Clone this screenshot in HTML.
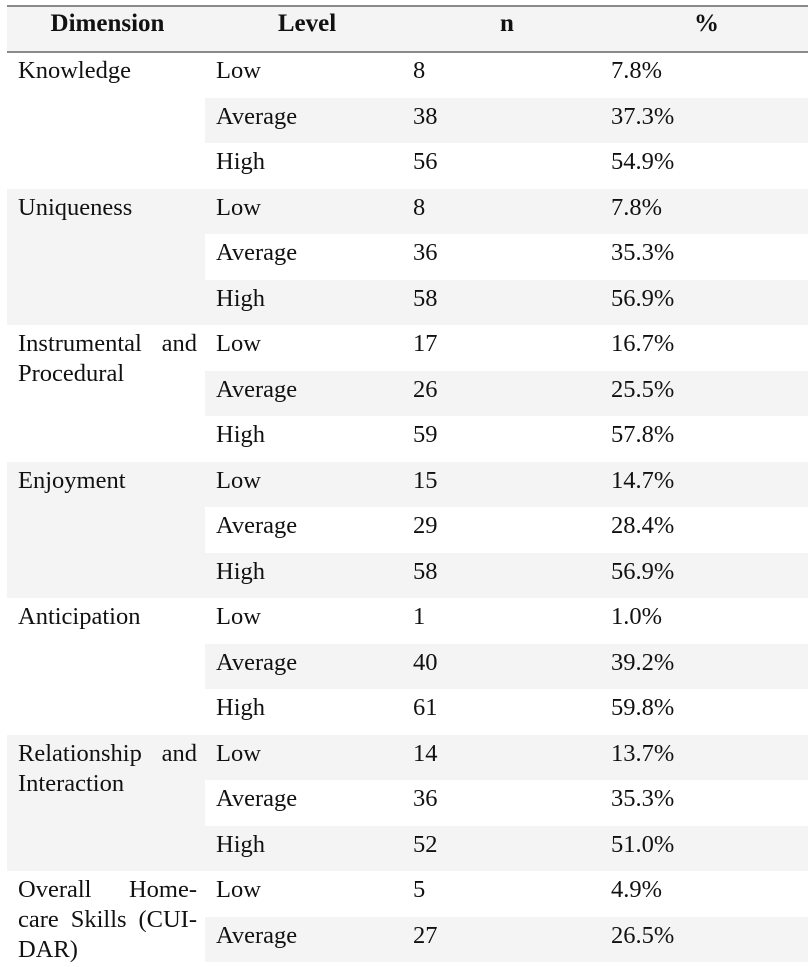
<!DOCTYPE html>
<html><head><meta charset="utf-8">
<style>
html,body{margin:0;background:#fff;width:808px;height:967px;overflow:hidden;}
body{position:relative;font-family:"Liberation Serif",serif;color:#111;}
.hline{position:absolute;left:7px;width:801px;height:2px;background:#8a8a8a;}
.hdr{position:absolute;top:6px;left:7px;width:801px;height:46px;background:#f4f4f4;}
.ht{position:absolute;top:10px;font-weight:bold;font-size:25px;text-align:center;}
.cell{position:absolute;font-size:24.5px;white-space:nowrap;}
.dim{position:absolute;font-size:24.5px;line-height:30px;width:179px;left:18px;}
.dim span{display:block;text-align:justify;text-align-last:justify;white-space:nowrap;}
.dim span.last{text-align-last:left;}
.bg{position:absolute;background:#f4f4f4;}
</style></head>
<body>
<div class="hdr"></div>
<div class="hline" style="top:5px"></div>
<div class="hline" style="top:51px"></div>
<div class="ht" style="left:7px;width:201px">Dimension</div>
<div class="ht" style="left:205px;width:204px">Level</div>
<div class="ht" style="left:405px;width:204px">n</div>
<div class="ht" style="left:605px;width:203px">%</div>
<div id="body"></div>
<script>
const dimensionLines = [["Knowledge"],["Uniqueness"],["Instrumental and","Procedural"],["Enjoyment"],["Anticipation"],["Relationship and","Interaction"],["Overall Home-","care Skills (CUI-","DAR)"]];
const levels = ["Low","Average","High"];
const counts = [[8,38,56],[8,36,58],[17,26,59],[15,29,58],[1,40,61],[14,36,52],[5,27,50]];
const percents = [["7.8%","37.3%","54.9%"],["7.8%","35.3%","56.9%"],["16.7%","25.5%","57.8%"],["14.7%","28.4%","56.9%"],["1.0%","39.2%","59.8%"],["13.7%","35.3%","51.0%"],["4.9%","26.5%","49.0%"]];
const body = document.getElementById('body');
const top0 = 52, rh = 45.5;
dimensionLines.forEach((lines, g) => {
  const gTop = top0 + g * 3 * rh;
  if (g % 2 === 1) {
    const b = document.createElement('div');
    b.className = 'bg';
    b.style.cssText = `left:7px;top:${gTop}px;width:198px;height:${3*rh}px`;
    
    
    body.appendChild(b);
  }
  for (let r = 0; r < 3; r++) {
    const idx = g * 3 + r;
    const y = gTop + r * rh;
    if (idx % 2 === 1) {
      const b = document.createElement('div');
      b.className = 'bg';
      b.style.cssText = `left:205px;top:${y}px;width:603px;height:${rh}px`;
      
      
      body.appendChild(b);
    }
    const vals = [levels[r], counts[g][r], percents[g][r]];
    const xs = [216, 413, 611];
    vals.forEach((v, c) => {
      const t = document.createElement('div');
      t.className = 'cell';
      t.style.left = xs[c] + 'px';
      t.style.top = (y + 5) + 'px';
      t.textContent = v;
      
      
      body.appendChild(t);
    });
  }
  const dm = document.createElement('div');
  dm.className = 'dim';
  dm.style.top = (gTop + 4) + 'px';
  
  
  lines.forEach((ln, i) => {
    const s = document.createElement('span');
    s.textContent = ln;
    if (i === lines.length - 1) s.className = 'last';
    dm.appendChild(s);
  });
  body.appendChild(dm);
});
</script>
</body></html>
